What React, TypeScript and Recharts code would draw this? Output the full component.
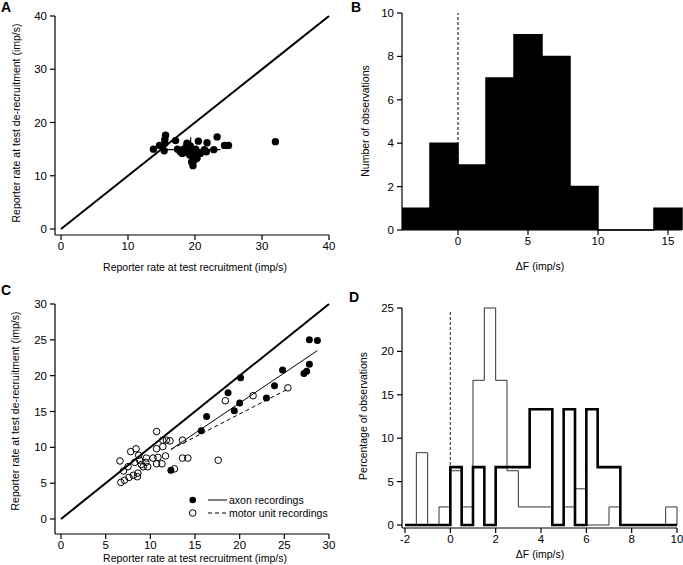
import React from "react";
import {
  Area,
  ComposedChart,
  ErrorBar,
  Label,
  Legend,
  Line,
  ReferenceLine,
  Scatter,
  XAxis,
  YAxis,
} from "recharts";

const FONT = '"Liberation Sans", Arial, Helvetica, sans-serif';
const FS = 10.5;
const TICK_FS = 11.5;

// ---- Panel A: de-recruitment vs recruitment rate (imp/s) ----
const aPoints = [
  { x: 13.8, y: 15.0 }, { x: 14.7, y: 15.7 }, { x: 15.4, y: 14.7 }, { x: 15.6, y: 17.6 },
  { x: 15.5, y: 16.8 }, { x: 15.5, y: 16.1 }, { x: 17.1, y: 16.6 }, { x: 17.4, y: 15.0 },
  { x: 17.8, y: 14.5 }, { x: 18.1, y: 14.2 }, { x: 18.3, y: 15.0 }, { x: 18.5, y: 14.4 },
  { x: 18.7, y: 15.4 }, { x: 18.8, y: 16.1 }, { x: 19.1, y: 14.7 }, { x: 19.2, y: 13.9 },
  { x: 19.3, y: 15.6 }, { x: 19.6, y: 14.4 }, { x: 19.5, y: 12.6 }, { x: 19.7, y: 11.9 },
  { x: 19.8, y: 13.6 }, { x: 19.9, y: 12.9 }, { x: 20.0, y: 14.2 }, { x: 20.1, y: 15.0 },
  { x: 20.3, y: 13.3 }, { x: 20.5, y: 16.5 }, { x: 20.8, y: 14.2 }, { x: 21.4, y: 14.9 },
  { x: 21.7, y: 14.5 }, { x: 21.8, y: 16.2 }, { x: 22.8, y: 14.9 }, { x: 23.3, y: 17.3 },
  { x: 24.4, y: 15.7 }, { x: 25.0, y: 15.7 }, { x: 32.0, y: 16.4 },
];
const aMean = [{ x: 19.35, y: 14.9, ex: 4.45, ey: 2.35 }];

// ---- Panel B: histogram of ΔF ----
const bEdges = [-4, -2, 0, 2, 4, 6, 8, 10, 12, 14, 16];
const bCounts = [1, 4, 3, 7, 9, 8, 2, 0, 0, 1];

// ---- Panel C: axon vs motor unit recordings ----
const cAxon = [
  { x: 12.3, y: 6.8 }, { x: 15.7, y: 12.3 }, { x: 16.3, y: 14.3 }, { x: 18.7, y: 17.6 },
  { x: 19.4, y: 15.1 }, { x: 20.0, y: 16.2 }, { x: 20.1, y: 19.7 }, { x: 23.0, y: 16.9 },
  { x: 23.9, y: 18.6 }, { x: 24.8, y: 20.8 }, { x: 27.2, y: 20.3 }, { x: 27.5, y: 20.6 },
  { x: 27.8, y: 21.6 }, { x: 27.8, y: 25.0 }, { x: 28.7, y: 24.9 },
];
const cMotor = [
  { x: 6.6, y: 8.1 }, { x: 6.7, y: 5.1 }, { x: 7.1, y: 5.4 }, { x: 7.0, y: 6.7 },
  { x: 7.5, y: 7.3 }, { x: 7.6, y: 5.8 }, { x: 7.8, y: 9.4 }, { x: 8.1, y: 6.1 },
  { x: 8.25, y: 7.9 }, { x: 8.4, y: 9.8 }, { x: 8.55, y: 5.9 }, { x: 8.6, y: 6.4 },
  { x: 8.7, y: 8.9 }, { x: 8.8, y: 8.2 }, { x: 9.0, y: 7.6 }, { x: 9.2, y: 7.3 },
  { x: 9.5, y: 7.9 }, { x: 9.55, y: 8.5 }, { x: 9.7, y: 7.3 }, { x: 10.3, y: 8.5 },
  { x: 10.7, y: 12.2 }, { x: 10.7, y: 7.7 }, { x: 10.7, y: 9.8 }, { x: 10.85, y: 8.6 },
  { x: 11.3, y: 7.7 }, { x: 11.4, y: 10.1 }, { x: 11.4, y: 11.0 }, { x: 11.7, y: 8.8 },
  { x: 11.8, y: 11.0 }, { x: 12.2, y: 10.9 }, { x: 12.7, y: 7.0 }, { x: 13.6, y: 11.0 },
  { x: 13.6, y: 8.5 }, { x: 14.2, y: 8.5 }, { x: 17.6, y: 8.2 }, { x: 18.4, y: 16.5 },
  { x: 21.5, y: 17.2 }, { x: 25.4, y: 18.3 },
];
const cAxonFit = [{ x: 12.3, y: 9.7 }, { x: 28.7, y: 23.5 }];
const cMotorFit = [{ x: 12.3, y: 9.7 }, { x: 25.5, y: 18.2 }];
const cLegend = ["axon recordings", "motor unit recordings"];

// ---- Panel D: percentage histograms of ΔF ----
const dEdges = [
  -2, -1.5, -1, -0.5, 0, 0.5, 1, 1.5, 2, 2.5, 3, 3.5, 4, 4.5, 5, 5.5, 6, 6.5, 7, 7.5, 8, 8.5, 9,
  9.5, 10,
];
const dMotor = [
  0, 8.33, 0, 2.08, 6.25, 2.08, 16.67, 25, 16.67, 6.25, 2.08, 2.08, 2.08, 0, 2.08, 4.17, 0, 0,
  2.08, 0, 0, 0, 0, 2.08,
];
const dAxon = [
  0, 0, 0, 0, 6.67, 0, 6.67, 0, 6.67, 6.67, 6.67, 13.33, 13.33, 0, 13.33, 0, 13.33, 6.67, 6.67,
  0, 0, 0, 0, 0,
];

const bRows = bEdges.map((x, i) => ({ x, n: bCounts[i] ?? 0 }));
const dRows = dEdges.map((x, i) => ({ x, motor: dMotor[i] ?? 0, axon: dAxon[i] ?? 0 }));

const tickStyle = { fontSize: TICK_FS, fill: "#000", fontFamily: FONT };
const axisLine = { stroke: "#000", strokeWidth: 1.2 };
const tickLine = { stroke: "#000", strokeWidth: 1.2 };

function yTitle(text: string, cx: number, cy: number) {
  return (
    <Label
      content={() => (
        <text
          x={cx}
          y={cy}
          transform={`rotate(-90 ${cx} ${cy})`}
          textAnchor="middle"
          dominantBaseline="central"
          fontSize={FS}
          fontFamily={FONT}
          fill="#000"
        >
          {text}
        </text>
      )}
    />
  );
}

function xTitle(text: string, cx: number, cy: number) {
  return (
    <Label
      content={() => (
        <text
          x={cx}
          y={cy}
          textAnchor="middle"
          dominantBaseline="central"
          fontSize={FS}
          fontFamily={FONT}
          fill="#000"
        >
          {text}
        </text>
      )}
    />
  );
}

const dot = (r: number, filled: boolean) => (p: any) =>
  (
    <circle
      cx={p.cx}
      cy={p.cy}
      r={r}
      fill={filled ? "#000" : "none"}
      stroke="#000"
      strokeWidth={filled ? 0 : 1}
    />
  );

function LegendC() {
  return (
    <div style={{ fontFamily: FONT, fontSize: FS, color: "#000" }}>
      {cLegend.map((label, i) => (
        <div key={label} style={{ display: "flex", alignItems: "center", height: 12.7 }}>
          <svg width={43} height={12} style={{ display: "block" }}>
            <circle cx={6.7} cy={6} r={3.3} fill={i === 0 ? "#000" : "none"} stroke="#000" strokeWidth={i === 0 ? 0 : 1} />
            <line x1={22} y1={6} x2={41} y2={6} stroke="#000" strokeWidth={1} strokeDasharray={i === 0 ? undefined : "4 3"} />
          </svg>
          <span style={{ whiteSpace: "nowrap", lineHeight: "12px" }}>{label}</span>
        </div>
      ))}
    </div>
  );
}

function PanelLetter({ letter, left, top }: { letter: string; left: number; top: number }) {
  return (
    <div
      style={{
        position: "absolute",
        left,
        top,
        fontFamily: FONT,
        fontWeight: "bold",
        fontSize: 14,
        lineHeight: "14px",
      }}
    >
      {letter}
    </div>
  );
}

export default function App() {
  return (
    <div style={{ position: "relative", width: 683, height: 565, background: "#fff", fontFamily: FONT }}>
      <style>{"body{margin:0}"}</style>

      {/* A */}
      <div style={{ position: "absolute", left: 0, top: 0 }}>
        <ComposedChart width={340} height={280} margin={{ top: 16, right: 11, bottom: 0, left: 0 }}>
          <XAxis type="number" dataKey="x" domain={[0, 40]} ticks={[0, 10, 20, 30, 40]} padding={{ left: 6, right: 0 }}
            height={45} tickSize={5} tick={tickStyle} axisLine={axisLine} tickLine={tickLine}>
            {xTitle("Reporter rate at test recruitment (imp/s)", 195, 267)}
          </XAxis>
          <YAxis type="number" dataKey="y" domain={[0, 40]} ticks={[0, 10, 20, 30, 40]} padding={{ top: 0, bottom: 6 }}
            width={55} tickSize={5} tickMargin={3} tick={tickStyle} axisLine={axisLine} tickLine={tickLine}>
            {yTitle("Reporter rate at test de-recruitment (imp/s)", 16, 123)}
          </YAxis>
          <ReferenceLine segment={[{ x: 0, y: 0 }, { x: 40, y: 40 }]} stroke="#000" strokeWidth={2} />
          <Scatter data={aMean} shape={() => <g />} isAnimationActive={false}>
            <ErrorBar dataKey="ex" direction="x" width={0} stroke="#000" strokeWidth={1.2} />
            <ErrorBar dataKey="ey" direction="y" width={0} stroke="#000" strokeWidth={1.2} />
          </Scatter>
          <Scatter data={aPoints} shape={dot(3.7, true)} isAnimationActive={false} />
        </ComposedChart>
      </div>

      {/* B */}
      <div style={{ position: "absolute", left: 340, top: 0 }}>
        <ComposedChart width={343} height={280} data={bRows} margin={{ top: 13, right: 1, bottom: 0, left: 0 }}>
          <XAxis type="number" dataKey="x" domain={[-4, 16]} ticks={[0, 5, 10, 15]} height={50} tickSize={5}
            tick={tickStyle} axisLine={axisLine} tickLine={tickLine}>
            {xTitle("ΔF (imp/s)", 200, 266)}
          </XAxis>
          <YAxis type="number" domain={[0, 10]} ticks={[0, 2, 4, 6, 8, 10]} width={62} tickSize={5} tickMargin={3}
            tick={tickStyle} axisLine={axisLine} tickLine={tickLine}>
            {yTitle("Number of observations", 25, 121)}
          </YAxis>
          <Area type="stepAfter" dataKey="n" fill="#000" fillOpacity={1} stroke="#000" strokeWidth={1.5}
            isAnimationActive={false} dot={false} activeDot={false} />
          <ReferenceLine x={0} stroke="#000" strokeWidth={1} strokeDasharray="3 2" />
        </ComposedChart>
      </div>

      {/* C */}
      <div style={{ position: "absolute", left: 0, top: 280 }}>
        <ComposedChart width={340} height={285} margin={{ top: 24, right: 11, bottom: 0, left: 0 }}>
          <XAxis type="number" dataKey="x" domain={[0, 30]} ticks={[0, 5, 10, 15, 20, 25, 30]} padding={{ left: 6, right: 0 }}
            height={31} tickSize={5} tick={tickStyle} axisLine={axisLine} tickLine={tickLine}>
            {xTitle("Reporter rate at test recruitment (imp/s)", 195, 278)}
          </XAxis>
          <YAxis type="number" dataKey="y" domain={[0, 30]} ticks={[0, 5, 10, 15, 20, 25, 30]} padding={{ top: 0, bottom: 15 }}
            width={55} tickSize={5} tickMargin={3} tick={tickStyle} axisLine={axisLine} tickLine={tickLine}>
            {yTitle("Reporter rate at test de-recruitment (imp/s)", 15, 131)}
          </YAxis>
          <ReferenceLine segment={[{ x: 0, y: 0 }, { x: 30, y: 30 }]} stroke="#000" strokeWidth={2} />
          <ReferenceLine segment={[cAxonFit[0], cAxonFit[1]]} stroke="#000" strokeWidth={1} />
          <ReferenceLine segment={[cMotorFit[0], cMotorFit[1]]} stroke="#000" strokeWidth={1} strokeDasharray="4 3" />
          <Scatter data={cMotor} shape={dot(3.3, false)} isAnimationActive={false} />
          <Scatter data={cAxon} shape={dot(3.5, true)} isAnimationActive={false} />
          <Legend layout="vertical" align="center" verticalAlign="middle"
            wrapperStyle={{ left: 186, top: 214, width: 154 }} content={() => <LegendC />} />
        </ComposedChart>
      </div>

      {/* D */}
      <div style={{ position: "absolute", left: 340, top: 280 }}>
        <ComposedChart width={343} height={285} data={dRows} margin={{ top: 28, right: 6, bottom: 0, left: 0 }}>
          <XAxis type="number" dataKey="x" domain={[-2, 10]} ticks={[-2, 0, 2, 4, 6, 8, 10]} padding={{ left: 3, right: 0 }}
            height={37} tickSize={5} tick={tickStyle} axisLine={axisLine} tickLine={tickLine}>
            {xTitle("ΔF (imp/s)", 200, 274)}
          </XAxis>
          <YAxis type="number" domain={[0, 25]} ticks={[0, 5, 10, 15, 20, 25]} padding={{ top: 0, bottom: 3 }}
            width={62} tickSize={5} tickMargin={3} tick={tickStyle} axisLine={axisLine} tickLine={tickLine}>
            {yTitle("Percentage of observations", 23, 136)}
          </YAxis>
          <ReferenceLine segment={[{ x: 0, y: 0 }, { x: 0, y: 24.6 }]} stroke="#444" strokeWidth={1.2} strokeDasharray="3 2" />
          <Line type="stepAfter" dataKey="motor" stroke="#333" strokeWidth={1} dot={false} activeDot={false} isAnimationActive={false} />
          <Line type="stepAfter" dataKey="axon" stroke="#000" strokeWidth={2.6} dot={false} activeDot={false} isAnimationActive={false} />
        </ComposedChart>
      </div>

      <PanelLetter letter="A" left={1} top={0} />
      <PanelLetter letter="B" left={351} top={0} />
      <PanelLetter letter="C" left={1} top={283} />
      <PanelLetter letter="D" left={349} top={290} />
    </div>
  );
}
